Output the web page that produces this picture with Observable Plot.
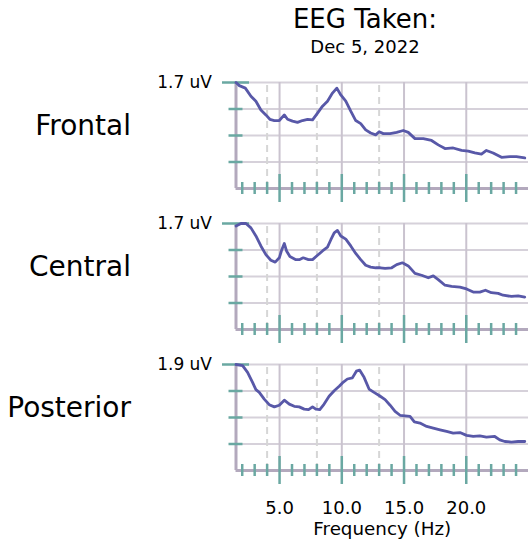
<!DOCTYPE html>
<html>
<head>
<meta charset="utf-8">
<script src="https://cdn.jsdelivr.net/npm/d3@7"></script>
<script src="https://cdn.jsdelivr.net/npm/@observablehq/plot@0.6"></script>
<style>
html, body { margin: 0; padding: 0; background: #fff; overflow: hidden; }
#chart { position: relative; width: 528px; height: 548px; font-family: "DejaVu Sans", sans-serif; color: #000; }
.t { position: absolute; left: 200px; width: 330px; text-align: center; line-height: 1; white-space: nowrap; }
.panel { position: absolute; left: 0; }
</style>
</head>
<body>
<div id="chart">
  <div class="t" style="top:6px;font-size:26px;">EEG Taken:</div>
  <div class="t" style="top:38px;font-size:18px;">Dec 5, 2022</div>
</div>
<script>
// ---- data ----
const xDomain = [1.5, 25];
const majorHz = [5, 10, 15, 20];
const minorHz = [2, 3, 4, 6, 7, 8, 9, 11, 12, 13, 14, 16, 17, 18, 19, 21, 22, 23, 24];
const bandHz = [4, 8, 13];
const xTickLabels = ["5.0", "10.0", "15.0", "20.0"];

const regions = ["Frontal", "Central", "Posterior"];

const frontalTicks = [0.425, 0.85, 1.275, 1.7];
const centralTicks = [0.425, 0.85, 1.275, 1.7];
const posteriorTicks = [0.475, 0.95, 1.425, 1.9];

const frontalHz = [1.5, 1.77, 2.25, 2.7, 3.1, 3.5, 3.9, 4.22, 4.58, 4.98, 5.38, 5.64, 6.04, 6.44, 6.84, 7.25, 7.65, 8.05, 8.45, 8.85, 9.25, 9.6, 9.92, 10.32, 10.72, 11.12, 11.52, 11.92, 12.32, 12.72, 13.0, 13.34, 13.88, 14.41, 14.94, 15.34, 15.88, 16.55, 17.21, 17.75, 18.29, 18.95, 19.62, 20.16, 20.69, 21.22, 21.62, 22.16, 22.83, 23.5, 24.03, 24.7];
const frontalUv = [1.70, 1.65, 1.61, 1.48, 1.40, 1.26, 1.18, 1.11, 1.09, 1.09, 1.18, 1.11, 1.08, 1.06, 1.09, 1.11, 1.10, 1.21, 1.32, 1.40, 1.53, 1.61, 1.50, 1.40, 1.24, 1.09, 1.04, 0.94, 0.89, 0.86, 0.91, 0.88, 0.88, 0.90, 0.93, 0.90, 0.80, 0.80, 0.77, 0.70, 0.64, 0.65, 0.61, 0.60, 0.57, 0.55, 0.61, 0.57, 0.50, 0.51, 0.51, 0.49];

const centralHz = [1.5, 1.9, 2.3, 2.7, 3.1, 3.5, 3.9, 4.3, 4.65, 4.98, 5.18, 5.38, 5.56, 5.83, 6.31, 6.58, 6.9, 7.32, 7.65, 8.05, 8.45, 8.85, 9.12, 9.39, 9.65, 9.92, 10.32, 10.72, 11.12, 11.52, 11.92, 12.32, 12.72, 13.1, 13.48, 14.01, 14.41, 14.87, 15.34, 15.88, 16.41, 16.95, 17.35, 17.75, 18.29, 18.82, 19.49, 20.02, 20.56, 21.09, 21.54, 22.02, 22.56, 22.96, 23.63, 24.17, 24.7];
const centralUv = [1.66, 1.70, 1.70, 1.63, 1.50, 1.34, 1.20, 1.11, 1.08, 1.15, 1.28, 1.38, 1.26, 1.17, 1.12, 1.12, 1.15, 1.12, 1.12, 1.19, 1.26, 1.32, 1.44, 1.55, 1.59, 1.50, 1.45, 1.34, 1.22, 1.12, 1.03, 1.00, 0.99, 0.99, 0.98, 0.99, 1.04, 1.07, 1.02, 0.90, 0.87, 0.83, 0.86, 0.80, 0.71, 0.69, 0.68, 0.65, 0.60, 0.60, 0.63, 0.59, 0.58, 0.55, 0.53, 0.54, 0.52];

const posteriorHz = [1.5, 2.03, 2.43, 2.83, 3.1, 3.37, 3.77, 4.17, 4.58, 4.98, 5.38, 5.78, 6.18, 6.58, 6.98, 7.33, 7.65, 7.91, 8.23, 8.58, 8.98, 9.39, 9.79, 10.05, 10.45, 10.85, 11.17, 11.43, 11.79, 12.19, 12.59, 13.03, 13.48, 13.88, 14.28, 14.68, 15.08, 15.48, 15.83, 16.28, 16.82, 17.35, 17.89, 18.42, 18.95, 19.49, 20.02, 20.56, 21.09, 21.62, 22.29, 22.69, 23.1, 23.63, 24.17, 24.7];
const posteriorUv = [1.90, 1.88, 1.76, 1.58, 1.45, 1.40, 1.28, 1.18, 1.14, 1.17, 1.26, 1.19, 1.15, 1.14, 1.10, 1.09, 1.14, 1.10, 1.09, 1.19, 1.33, 1.43, 1.51, 1.57, 1.64, 1.66, 1.78, 1.80, 1.67, 1.46, 1.40, 1.34, 1.27, 1.17, 1.06, 0.99, 0.98, 0.97, 0.87, 0.85, 0.79, 0.76, 0.73, 0.70, 0.67, 0.68, 0.63, 0.61, 0.62, 0.60, 0.61, 0.55, 0.52, 0.51, 0.52, 0.52];

// ---- styles ----
const lineColor = "#5858a8";
const axisColor = "#b3a9bd";
const tickColor = "#6aa8a2";
const gridColor = "#d6d1da";
const vGridColor = "#cac3cf";
const bandColor = "#d6d6d6";

function panel(name, hz, uv, ticks, top, bottomAxis) {
  const ymax = ticks[ticks.length - 1];
  const data = hz.map((h, i) => ({hz: h, uv: uv[i]}));
  const marginTop = 12;
  const marginBottom = bottomAxis ? 76 : 18;
  const marks = [
    Plot.ruleY(ticks, {stroke: gridColor, strokeWidth: 2}),
    Plot.ruleX(majorHz, {y1: 0, y2: ymax, stroke: vGridColor, strokeWidth: 2}),
    Plot.ruleX(bandHz, {y1: 0, y2: ymax, stroke: bandColor, strokeWidth: 2, strokeDasharray: "7,5"}),
    Plot.ruleX([xDomain[0]], {y1: 0, y2: ymax, stroke: axisColor, strokeWidth: 3}),
    Plot.ruleY([0], {stroke: axisColor, strokeWidth: 3}),
    Plot.ruleX(minorHz, {y1: 0, y2: 0, insetTop: 6, insetBottom: 6, stroke: tickColor, strokeWidth: 2.5}),
    Plot.ruleX(majorHz, {y1: 0, y2: 0, insetTop: 14, insetBottom: 14, stroke: tickColor, strokeWidth: 2.5}),
    Plot.ruleY(ticks.slice(0, -1), {x1: xDomain[0], x2: xDomain[0], insetLeft: 7, insetRight: 7, stroke: tickColor, strokeWidth: 2.5}),
    Plot.ruleY([ymax], {x1: xDomain[0], x2: xDomain[0], insetLeft: 13.5, insetRight: 13.5, stroke: tickColor, strokeWidth: 2.5}),
    Plot.line(data, {x: "hz", y: "uv", stroke: lineColor, strokeWidth: 2.8}),
    Plot.axisY({ticks: [ymax], tickFormat: d => `${d} uV`, tickSize: 0, tickPadding: 24, label: null, fontSize: 17}),
    Plot.text([name], {text: d => d, frameAnchor: "left", dx: -105, dy: -9, textAnchor: "end", fontSize: 28})
  ];
  if (bottomAxis) {
    marks.push(Plot.axisX({ticks: majorHz, tickFormat: (d) => xTickLabels[majorHz.indexOf(d)], tickSize: 0, tickPadding: 31, label: null, fontSize: 18}));
    marks.push(Plot.text(["Frequency (Hz)"], {text: d => d, frameAnchor: "bottom", dy: 64, fontSize: 18.3}));
  }
  const opts = {
    width: 528,
    height: marginTop + 106 + marginBottom,
    marginLeft: 235.5,
    marginRight: 0,
    marginTop,
    marginBottom,
    style: {fontFamily: "DejaVu Sans", background: "transparent", color: "#000"},
    x: {domain: xDomain},
    y: {domain: [0, ymax]},
    marks
  };
  if (!bottomAxis) opts.x.axis = null;
  const svg = Plot.plot(opts);
  svg.classList.add("panel");
  svg.style.top = top + "px";
  svg.style.left = "0px";
  svg.style.position = "absolute";
  svg.style.overflow = "visible";
  svg.style.maxWidth = "none";
  document.getElementById("chart").appendChild(svg);
}

panel(regions[0], frontalHz, frontalUv, frontalTicks, 70, false);
panel(regions[1], centralHz, centralUv, centralTicks, 211, false);
panel(regions[2], posteriorHz, posteriorUv, posteriorTicks, 351.5, true);
</script>
</body>
</html>
